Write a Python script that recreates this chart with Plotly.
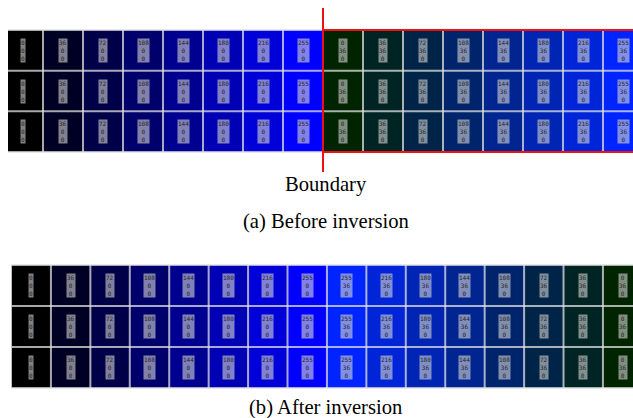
import plotly.graph_objects as go

# Channel levels shown in each cell as (B, G, R)
blue_levels = [0, 36, 72, 108, 144, 180, 216, 255]
green_levels = [0, 36]
red_level = 0
n_rows = 3

# (a) before inversion: blue ramp at G=0, then blue ramp again at G=36
before_blue = [0, 36, 72, 108, 144, 180, 216, 255, 0, 36, 72, 108, 144, 180, 216, 255]
before_green = [0, 0, 0, 0, 0, 0, 0, 0, 36, 36, 36, 36, 36, 36, 36, 36]
# (b) after inversion: second half of the ramp is mirrored
after_blue = [0, 36, 72, 108, 144, 180, 216, 255, 255, 216, 180, 144, 108, 72, 36, 0]
after_green = [0, 0, 0, 0, 0, 0, 0, 0, 36, 36, 36, 36, 36, 36, 36, 36]
boundary_col = 8

captions = ["Boundary", "(a) Before inversion", "(b) After inversion"]

W, H = 633, 418


def py(p):
    return 1 - p / H


fig = go.Figure()

panels = [
    dict(blue=before_blue, green=before_green, xa="x", ya="y"),
    dict(blue=after_blue, green=after_green, xa="x2", ya="y2"),
]

grid_color = "rgba(225,225,225,0.75)"
shapes = []
annotations = []

for k, p in enumerate(panels):
    z = [[[red_level, g, b] for b, g in zip(p["blue"], p["green"])] for _ in range(n_rows)]
    fig.add_trace(go.Image(z=z, x0=0.5, y0=0.5, dx=1, dy=1,
                           xaxis=p["xa"], yaxis=p["ya"], hoverinfo="skip"))
    ncol = len(p["blue"])
    # grid lines
    for c in range(1, ncol):
        if k == 0 and c == boundary_col:
            continue
        shapes.append(dict(type="line", xref=p["xa"], yref=p["ya"], x0=c, x1=c, y0=0, y1=n_rows,
                           line=dict(color=grid_color, width=2)))
    for r in range(n_rows + 1):
        shapes.append(dict(type="line", xref=p["xa"], yref=p["ya"], x0=-1, x1=ncol + 1, y0=r, y1=r,
                           line=dict(color=grid_color, width=2)))
    # value labels
    for r in range(n_rows):
        for c, (b, g) in enumerate(zip(p["blue"], p["green"])):
            annotations.append(dict(
                xref=p["xa"], yref=p["ya"], x=c + 0.5, y=r + 0.5,
                text=f"{b}<br>{g}<br>{red_level}", showarrow=False,
                font=dict(family="DejaVu Sans Mono", size=6, color="#262626"),
                bgcolor="rgba(215,215,215,0.6)", borderpad=0, align="center",
            ))

# boundary marker on panel (a)
shapes.append(dict(type="rect", xref="x", yref="y", x0=boundary_col, x1=17, y0=0, y1=n_rows,
                   line=dict(color="#ee1111", width=2)))
shapes.append(dict(type="line", xref="x", yref="paper", x0=boundary_col, x1=boundary_col,
                   y0=py(172), y1=py(8), line=dict(color="#ee1111", width=2)))

cap_font = dict(family="Liberation Serif", size=20.6, color="black")
for text, ypx in zip(captions, [185, 221, 407.5]):
    annotations.append(dict(xref="paper", yref="paper", x=326 / W, y=py(ypx), text=text,
                            showarrow=False, xanchor="center", yanchor="middle", font=cap_font))

pad = 0.1
top_px, bot_px = 30, 152
top_unit = (bot_px - top_px) / n_rows
b_top_px, b_bot_px = 265, 388
b_unit = (b_bot_px - b_top_px) / n_rows
b_left = 11.5
b_colw = 39.43

axis_common = dict(visible=False, showgrid=False, zeroline=False, autorange=False, scaleanchor=False)

fig.update_layout(
    width=W, height=H,
    margin=dict(l=0, r=0, t=0, b=0),
    paper_bgcolor="white", plot_bgcolor="white",
    showlegend=False,
    xaxis=dict(domain=[8 / W, 1], range=[0.125, 15.75], **axis_common),
    yaxis=dict(domain=[py(bot_px + pad * top_unit), py(top_px - pad * top_unit)],
               range=[n_rows + pad, -pad], **axis_common),
    xaxis2=dict(domain=[b_left / W, 1], range=[0, (W - b_left) / b_colw], **axis_common),
    yaxis2=dict(domain=[py(b_bot_px + pad * b_unit), py(b_top_px - pad * b_unit)],
                range=[n_rows + pad, -pad], **axis_common),
    shapes=shapes,
    annotations=annotations,
)

fig.write_html("out.html")
